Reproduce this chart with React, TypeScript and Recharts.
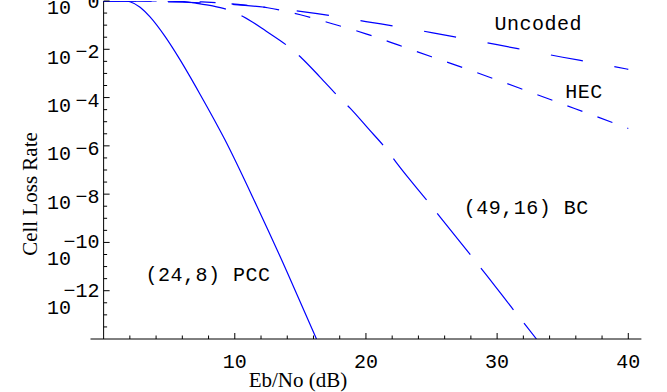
import React from 'react';
import { LineChart, Line, XAxis, YAxis, ReferenceLine, ReferenceDot } from 'recharts';

// ---- data ----
const pccX = [0, 1.63, 2.01, 2.78, 3.54, 4.68, 5.82, 7.35, 9.25, 11.67, 13.96, 16.23];
const pccY = [1, 0.999, 0.931, 0.552, 0.218, 0.034, 3.72e-3, 1.38e-4, 1.78e-6, 3.31e-9, 6.46e-12, 1e-14];

const bcX = [0, 4, 6, 7.1, 8.3, 9.51, 10.66, 12.4, 14.09, 15.11, 16.5, 17.9, 18.79, 20.2, 21.59, 22.35, 24.96, 25.72, 28.37, 29.13, 31.23, 33.0];
const bcY = [1, 0.998, 0.955, 0.804, 0.631, 0.427, 0.224, 0.0562, 0.0129, 4.27e-3, 7.08e-4, 1.1e-4, 3.63e-5, 5.01e-6, 6.92e-7, 1.91e-7, 3.39e-9, 1.02e-9, 1.62e-11, 4.9e-12, 1.66e-13, 1e-14];

const hecX = [0, 2.5, 5, 7.5, 10, 12.5, 15, 17.5, 20, 22.5, 25, 27.5, 30, 32.5, 35, 37.5, 40];
const hecY = [1, 0.998, 0.977, 0.912, 0.741, 0.525, 0.269, 0.112, 0.0437, 0.0148, 4.9e-3, 1.66e-3, 5.37e-4, 1.7e-4, 5.37e-5, 1.7e-5, 5.25e-6];

const uncX = [0, 2, 4, 6, 8, 10, 12.5, 15, 17.5, 20, 22.5, 25, 27.5, 30, 32.5, 35, 37.5, 40];
const uncY = [1, 0.989, 0.955, 0.891, 0.813, 0.708, 0.537, 0.372, 0.24, 0.141, 0.0851, 0.049, 0.0275, 0.0155, 8.51e-3, 4.68e-3, 2.69e-3, 1.48e-3];

const xTickValues = [2, 4, 6, 8, 10, 12, 14, 16, 18, 20, 22, 24, 26, 28, 30, 32, 34, 36, 38, 40];
const xTickLabels = [10, 20, 30, 40];
const yTickLabelExponents = [0, -2, -4, -6, -8, -10, -12];
const yTickValues = Array.from({ length: 28 }, (_, k) => Math.pow(10, -k / 2));

const seriesLabels = ['Uncoded', 'HEC', '(49,16) BC', '(24,8) PCC'];

// ---- layout ----
const W = 667;
const H = 392;
const MARGIN = { top: 1, right: 25.6, bottom: 23, left: 0 };
const Y_AXIS_W = 90.5;
const X_AXIS_H = 30;
const X_MIN = -1;
const X_MAX = 41;
const PLOT_LEFT = MARGIN.left + Y_AXIS_W;
const PLOT_RIGHT = W - MARGIN.right;
const AXIS_Y = H - MARGIN.bottom - X_AXIS_H;
const X0 = PLOT_LEFT + (0 - X_MIN) * (PLOT_RIGHT - PLOT_LEFT) / (X_MAX - X_MIN);

const BLUE = '#0000ff';
const MONO = "'Liberation Mono', 'Courier New', monospace";
const SERIF = "'Liberation Serif', 'Times New Roman', serif";
const FS = 20;

// annotation anchor positions (x in dB, y as rate)
const labelPos = [
  { x: 29.8, y: 0.063 },
  { x: 35.2, y: 9.4e-5 },
  { x: 27.45, y: 1.55e-9 },
  { x: 3.2, y: 2.44e-12 },
];

const toData = (xs: number[], ys: number[]) => xs.map((x, i) => ({ x, y: ys[i] }));
const pccData = toData(pccX, pccY);
const bcData = toData(bcX, bcY);
const hecData = toData(hecX, hecY);
const uncData = toData(uncX, uncY);

function YTick(props: any) {
  const { y, payload } = props;
  const e = Math.round(Math.log10(payload.value) * 2) / 2;
  const labeled = yTickLabelExponents.includes(e);
  const len = labeled ? 6 : 3.5;
  let label = null;
  if (labeled) {
    const expText = e === 0 ? '0' : `\u2212${-e}`;
    let baseY: number, expY: number;
    if (e === 0) {
      baseY = y + 12.5;
      expY = y + 6.5;
    } else if (e > -10) {
      baseY = y + 14.5;
      expY = y + 9;
    } else {
      baseY = y + 23;
      expY = y + 6;
    }
    label = (
      <g fontFamily={MONO} fontSize={FS} fill="#000">
        <text x={X0 - 32.6} y={baseY} textAnchor="end">10</text>
        <text x={X0 - 4.1} y={expY} textAnchor="end">{expText}</text>
      </g>
    );
  }
  return (
    <g>
      <line x1={X0} x2={X0 + len} y1={y} y2={y} stroke="#000" strokeWidth={1} />
      {label}
    </g>
  );
}

function XTick(props: any) {
  const { x, payload } = props;
  const v = payload.value;
  const major = xTickLabels.includes(v);
  return (
    <g>
      <line x1={x} x2={x} y1={AXIS_Y} y2={AXIS_Y - (major ? 6 : 3.5)} stroke="#000" strokeWidth={1} />
      {major && (
        <text x={x} y={AXIS_Y + 29} textAnchor="middle" fontFamily={MONO} fontSize={FS} fill="#000">
          {String(v)}
        </text>
      )}
    </g>
  );
}

const makeLabelShape = (text: string) => (p: any) => (
  <text x={p.cx} y={p.cy} fontFamily={MONO} fontSize={FS} letterSpacing={0.5} fill="#000" textAnchor="start">
    {text}
  </text>
);

export default function App() {
  return (
    <div style={{ position: 'absolute', left: 0, top: 0, width: W, height: H, background: '#fff' }}>
      <LineChart width={W} height={H} margin={MARGIN}>
        <XAxis
          dataKey="x"
          type="number"
          domain={[X_MIN, X_MAX]}
          allowDataOverflow
          ticks={xTickValues}
          interval={0}
          height={X_AXIS_H}
          tickLine={false}
          tickSize={0}
          tickMargin={0}
          axisLine={{ stroke: '#000', strokeWidth: 1 }}
          tick={<XTick />}
        />
        <YAxis
          type="number"
          scale="log"
          domain={[1e-14, 1]}
          allowDataOverflow
          ticks={yTickValues}
          interval={0}
          width={Y_AXIS_W}
          tickLine={false}
          tickSize={0}
          tickMargin={0}
          axisLine={false}
          tick={<YTick />}
        />
        <ReferenceLine x={0} stroke="#000" strokeWidth={1} />
        <Line data={pccData} dataKey="y" type="monotone" stroke={BLUE} strokeWidth={1.2} dot={false} isAnimationActive={false} />
        <Line data={bcData} dataKey="y" type="monotone" stroke={BLUE} strokeWidth={1.2} strokeDasharray="53 17" dot={false} isAnimationActive={false} />
        <Line data={hecData} dataKey="y" type="monotone" stroke={BLUE} strokeWidth={1.2} strokeDasharray="16 16" dot={false} isAnimationActive={false} />
        <Line data={uncData} dataKey="y" type="monotone" stroke={BLUE} strokeWidth={1.2} strokeDasharray="32.5 32" dot={false} isAnimationActive={false} />
        {seriesLabels.map((t, i) => (
          <ReferenceDot key={t} x={labelPos[i].x} y={labelPos[i].y} r={0} ifOverflow="visible" shape={makeLabelShape(t)} />
        ))}
      </LineChart>
      <svg width={W} height={H} style={{ position: 'absolute', left: 0, top: 0, pointerEvents: 'none' }}>
        <text x={36.5} y={194} transform="rotate(-90 36.5 194)" textAnchor="middle" fontFamily={SERIF} fontSize={21} fill="#000">
          Cell Loss Rate
        </text>
        <text x={298} y={387} textAnchor="middle" fontFamily={SERIF} fontSize={21} fill="#000">
          Eb/No (dB)
        </text>
      </svg>
    </div>
  );
}
